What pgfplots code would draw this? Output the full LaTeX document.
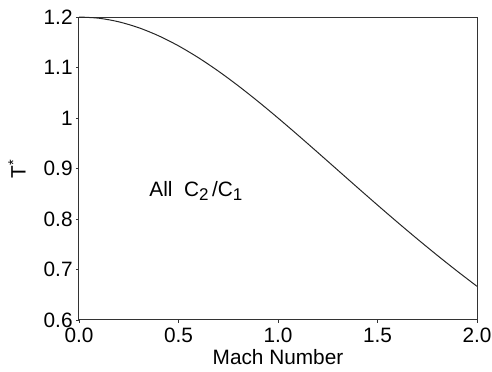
\documentclass[border=0pt]{standalone}
\usepackage{fontspec}
\setmainfont{Liberation Sans}
\usepackage{pgfplots}
\usetikzlibrary{calc}
\pgfplotsset{compat=1.18}
\begin{document}
\fontsize{10.4}{12}\selectfont
\begin{tikzpicture}
\begin{axis}[
  name=ax,
  scale only axis,
  width=199pt, height=151.5pt,
  xmin=0, xmax=2, ymin=0.6, ymax=1.2,
  xtick={0,0.5,1,1.5,2},
  xticklabels={0.0,0.5,1.0,1.5,2.0},
  ytick={0.6,0.7,0.8,0.9,1.0,1.1,1.2},
  yticklabels={0.6,0.7,0.8,0.9,1,1.1,1.2},
  tick align=outside,
  xtick pos=bottom, ytick pos=left,
  major tick length=1.5pt,
  axis line style={line width=0.5pt, black!80},
  tick style={black!80},
  /pgf/number format/assume math mode=true,
  ticklabel style={font=\fontsize{10.4}{12}\selectfont, inner sep=0pt},
  xticklabel style={yshift=-2.5pt},
  yticklabel style={xshift=-1.5pt},
  xlabel={Mach Number},
  ylabel={T\textsuperscript{*}},
  label style={font=\fontsize{10.4}{12}\selectfont},
  xlabel style={inner sep=0pt, yshift=-3pt},
  ylabel style={at={(axis description cs:0,0.5)}, anchor=center, yshift=31pt, xshift=0pt, inner sep=0pt},
  clip=false,
]
\addplot[black!85, line width=0.5pt, smooth] coordinates {
(0.0,1.2) (0.1,1.1976) (0.2,1.19048) (0.3,1.17878) (0.4,1.16279)
(0.5,1.14286) (0.6,1.1194) (0.7,1.0929) (0.8,1.06383) (0.9,1.0327)
(1.0,1.0) (1.1,0.96618) (1.2,0.93168) (1.3,0.89686) (1.4,0.86207)
(1.5,0.82759) (1.6,0.79365) (1.7,0.76046) (1.8,0.72816) (1.9,0.69686)
(2.0,0.66667)
};
\node[anchor=west, inner sep=0pt, font=\fontsize{10.4}{12}\selectfont] at (axis cs:0.352,0.855) {All\ \ C\raisebox{-0.35ex}{\fontsize{8.5}{10}\selectfont 2}\,/C\raisebox{-0.35ex}{\fontsize{8.5}{10}\selectfont 1}};
\end{axis}
\pgfresetboundingbox
\path[use as bounding box] ($(ax.south west)+(-39.5pt,-26pt)$) rectangle ($(ax.north east)+(7.5pt,8.5pt)$);
\end{tikzpicture}
\end{document}
